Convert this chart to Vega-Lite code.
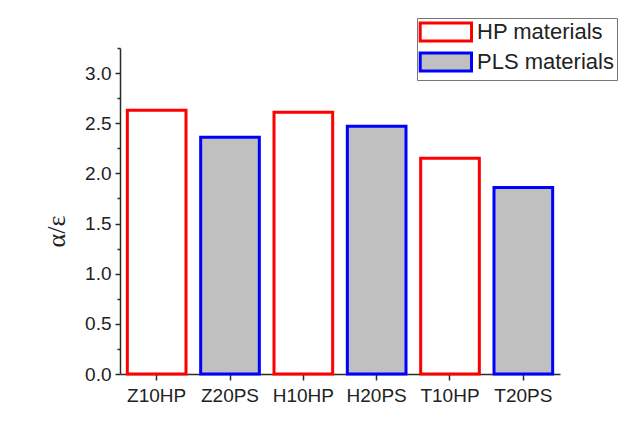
{
  "$schema": "https://vega.github.io/schema/vega-lite/v6.json",
  "autosize": "none",
  "width": 440,
  "height": 326,
  "padding": {"left": 120, "top": 48, "right": 72, "bottom": 67},
  "background": "white",
  "config": {
    "view": {"stroke": null},
    "font": "Liberation Sans",
    "axis": {
      "domainColor": "#2b2b2b",
      "domainWidth": 1.5,
      "tickColor": "#2b2b2b",
      "tickWidth": 1.5,
      "labelColor": "#222222",
      "labelFont": "Liberation Sans",
      "labelFontSize": 19,
      "grid": false,
      "zindex": 1
    }
  },
  "data": {
    "values": [
      {"sample": "Z10HP", "ratio": 2.63, "group": "HP materials"},
      {"sample": "Z20PS", "ratio": 2.36, "group": "PLS materials"},
      {"sample": "H10HP", "ratio": 2.61, "group": "HP materials"},
      {"sample": "H20PS", "ratio": 2.47, "group": "PLS materials"},
      {"sample": "T10HP", "ratio": 2.15, "group": "HP materials"},
      {"sample": "T20PS", "ratio": 1.86, "group": "PLS materials"}
    ]
  },
  "mark": {"type": "bar", "strokeWidth": 3, "cornerRadius": 0},
  "encoding": {
    "x": {
      "field": "sample",
      "type": "nominal",
      "sort": null,
      "scale": {"paddingInner": 0.2, "paddingOuter": 0.1},
      "axis": {
        "title": null,
        "labelAngle": 0,
        "tickSize": 6,
        "labelPadding": 6
      }
    },
    "y": {
      "field": "ratio",
      "type": "quantitative",
      "scale": {"domain": [0, 3.25], "nice": false, "zero": true},
      "axis": {
        "title": "α/ε",
        "titleFont": "Liberation Serif",
        "titleFontSize": 26,
        "titleFontWeight": "normal",
        "titleColor": "#222222",
        "titleX": -56,
        "titleY": 183,
        "titleBaseline": "alphabetic",
        "titleAngle": -90,
        "values": [0, 0.25, 0.5, 0.75, 1, 1.25, 1.5, 1.75, 2, 2.25, 2.5, 2.75, 3, 3.25],
        "format": ".1f",
        "labelExpr": "datum.value % 0.5 === 0 ? datum.label : ''",
        "tickSize": {"condition": {"test": "datum.value % 0.5 !== 0", "value": 3}, "value": 5},
        "labelPadding": 4
      }
    },
    "fill": {
      "field": "group",
      "type": "nominal",
      "scale": {"domain": ["HP materials", "PLS materials"], "range": ["#ffffff", "#c0c0c0"]},
      "legend": {
        "title": null,
        "orient": "none",
        "legendX": 297,
        "legendY": -30,
        "strokeColor": "#777777",
        "padding": 3,
        "fillColor": "white",
        "symbolType": "M-1.2,-1H4.5V1H-1.2Z",
        "symbolSize": 324,
        "symbolStrokeWidth": 3,
        "symbolOpacity": 1,
        "labelFont": "Liberation Sans",
        "labelFontSize": 22,
        "labelColor": "#222222",
        "labelOffset": 35,
        "rowPadding": 0,
        "labelLimit": 300
      }
    },
    "stroke": {
      "field": "group",
      "type": "nominal",
      "scale": {"domain": ["HP materials", "PLS materials"], "range": ["#ff0000", "#0000ff"]},
      "legend": null
    }
  }
}
